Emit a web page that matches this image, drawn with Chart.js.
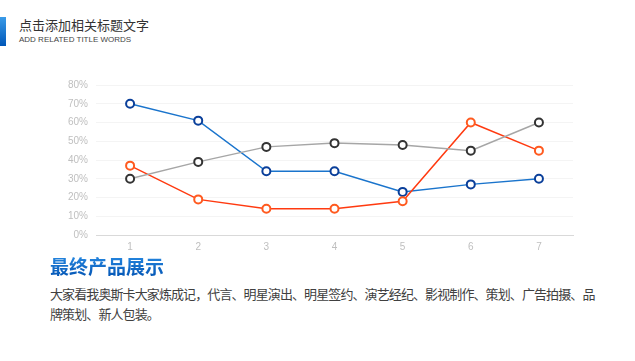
<!DOCTYPE html>
<html>
<head>
<meta charset="utf-8">
<script src="https://cdn.jsdelivr.net/npm/chart.js@4/dist/chart.umd.min.js"></script>
<style>
  html, body { margin: 0; padding: 0; background: #fff; }
  body { width: 635px; height: 361px; position: relative; overflow: hidden; font-family: "Noto Sans CJK SC", sans-serif; }
  .bar { position: absolute; left: 0; top: 17px; width: 6px; height: 29px; background: linear-gradient(#3a9be8, #0057b8); }
  .title { position: absolute; left: 19px; top: 17px; font-size: 13px; color: #333; line-height: 16px; }
  .sub { position: absolute; left: 19px; top: 35px; font-size: 8px; color: #444; font-family: "Liberation Sans", sans-serif; }
  .chartbox { position: absolute; left: 60px; top: 71px; width: 530px; height: 188px; }
  .head { position: absolute; left: 50px; top: 253px; font-size: 19px; font-weight: bold; line-height: 26px;
          background: linear-gradient(#2a8ee6, #0050b0); -webkit-background-clip: text; color: transparent; }
  .para { position: absolute; left: 50px; top: 284px; width: 552px; font-size: 13px; letter-spacing: -0.9px; line-height: 20px; color: #404040; }
</style>
</head>
<body>
<div class="bar"></div>
<div class="title">点击添加相关标题文字</div>
<div class="sub">ADD RELATED TITLE WORDS</div>
<div class="chartbox"><canvas id="chart"></canvas></div>
<div class="head">最终产品展示</div>
<div class="para">大家看我奥斯卡大家炼成记，代言、明星演出、明星签约、演艺经纪、影视制作、策划、广告拍摄、品牌策划、新人包装。</div>
<script>
"use strict";

const categories = ['1', '2', '3', '4', '5', '6', '7'];
const blueValues = [70, 61, 34, 34, 23, 27, 30];
const redValues = [37, 19, 14, 14, 18, 60, 45];
const grayValues = [30, 39, 47, 49, 48, 45, 60];

(() => {
  const canvas = document.getElementById('chart');

  Chart.defaults.font.family = '"Liberation Sans", Arial, sans-serif';
  Chart.defaults.color = '#bfbfbf';

  const line = (data, lineColor, pointColor) => ({
    data: data,
    borderColor: lineColor,
    borderWidth: 1.5,
    pointRadius: 4,
    pointBorderWidth: 2,
    pointBackgroundColor: '#fff',
    pointBorderColor: pointColor,
    tension: 0
  });

  new Chart(canvas, {
    type: 'line',
    data: {
      labels: categories,
      datasets: [
        line(grayValues, '#a6a6a6', '#333333'),
        line(redValues, '#ff3a10', '#ff5a1f'),
        line(blueValues, '#1a74cc', '#0a3f9a')
      ]
    },
    options: {
      responsive: true,
      maintainAspectRatio: false,
      animation: false,
      layout: { padding: { top: 6, right: 17, bottom: 0, left: 0 } },
      plugins: {
        legend: { display: false },
        tooltip: { enabled: false }
      },
      scales: {
        x: {
          offset: true,
          grid: { display: false, drawTicks: false },
          border: { color: '#d9d9d9' },
          ticks: { font: { size: 10 }, padding: 6 }
        },
        y: {
          min: 0,
          max: 80,
          grid: { color: '#f4f4f4', drawTicks: false },
          border: { display: false },
          ticks: { stepSize: 10, font: { size: 10 }, padding: 8, callback: v => v + '%' }
        }
      }
    }
  });
})();
</script>
</body>
</html>
